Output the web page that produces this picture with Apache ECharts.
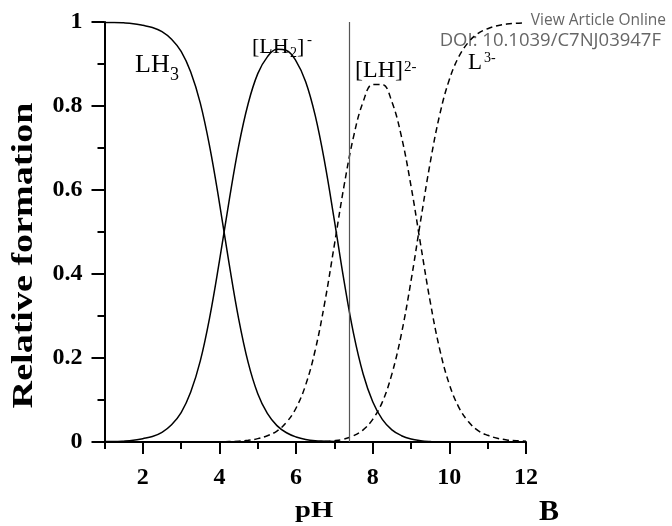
<!DOCTYPE html>
<html><head><meta charset="utf-8">
<script src="https://cdn.jsdelivr.net/npm/echarts@6/dist/echarts.min.js"></script>
<style>html,body{margin:0;padding:0;background:#fff}#c{width:672px;height:526px}</style>
</head><body><div id="c"></div>
<script>
var pH = [1,1.25,1.5,1.75,2,2.25,2.5,2.75,3,3.25,3.5,3.75,4,4.25,4.5,4.75,5,5.25,5.5,5.75,6,6.25,6.5,6.75,7,7.25,7.5,7.75,8,8.25,8.5,8.75,9,9.25,9.5,9.75,10,10.25,10.5,10.75,11,11.25,11.5,11.75,12];
var LH3 = [0.999,0.999,0.998,0.996,0.992,0.987,0.977,0.959,0.930,0.881,0.807,0.701,0.569,0.426,0.294,0.189,0.115,0.068,0.039,0.022,0.012,0.006,0.003,0.002,0.001,0,0,0,0,0,0,0,0,0,0,0,0,0,0,0,0,0,0,0,0];
var LH2 = [0.001,0.001,0.002,0.004,0.008,0.013,0.023,0.041,0.070,0.119,0.193,0.299,0.431,0.573,0.704,0.806,0.877,0.917,0.935,0.932,0.907,0.858,0.777,0.664,0.527,0.384,0.258,0.162,0.096,0.054,0.029,0.015,0.007,0.003,0.001,0,0,0,0,0,0,0,0,0,0];
var LH = [0,0,0,0,0,0,0,0,0,0,0,0,0.000,0.001,0.002,0.004,0.008,0.015,0.026,0.047,0.081,0.136,0.219,0.333,0.470,0.609,0.727,0.810,0.851,0.851,0.810,0.727,0.609,0.470,0.334,0.220,0.137,0.082,0.048,0.027,0.016,0.009,0.005,0.003,0.002];
var L3 = [0,0,0,0,0,0,0,0,0,0,0,0,0,0,0,0,0,0,0,0,0,0,0,0.001,0.003,0.007,0.015,0.029,0.054,0.095,0.162,0.258,0.384,0.527,0.665,0.780,0.863,0.918,0.952,0.973,0.984,0.991,0.995,0.997,0.998];
var xMajor = [2,4,6,8,10,12];
var xMinor = [1,3,5,7,9,11];
var physiologicalPH = 7.4;

function pairs(ys){ return pH.map(function(x,i){return [x, ys[i]];}); }

var serif = 'Liberation Serif';
var chart = echarts.init(document.getElementById('c'), null, {renderer:'canvas'});
function line(name, ys, dashed, extra){
  var s = {name:name, type:'line', data:pairs(ys), showSymbol:false, smooth:0.4,
    lineStyle:{color:'#000', width:1.5, type: dashed ? [6,4] : 'solid'}, z:3, animation:false};
  if (extra) for (var k in extra) s[k]=extra[k];
  return s;
}
var option = {
  animation:false,
  grid:{left:104.5, right:146, top:22, bottom:84},
  xAxis:[{
    type:'value', min:1, max:12,
    axisLine:{show:true, onZero:false, lineStyle:{color:'#000', width:2}},
    axisTick:{show:true, customValues:xMajor, length:12, lineStyle:{color:'#000', width:2}},
    axisLabel:{customValues:xMajor, margin:24, fontFamily:serif, fontWeight:'bold', fontSize:24, color:'#000'},
    splitLine:{show:false}
  },{
    type:'value', min:1, max:12, position:'bottom',
    axisLine:{show:false},
    axisTick:{show:true, customValues:xMinor, length:7, lineStyle:{color:'#000', width:2}},
    axisLabel:{show:false}, splitLine:{show:false}
  }],
  yAxis:{
    type:'value', min:0, max:1, interval:0.2,
    axisLine:{show:true, lineStyle:{color:'#000', width:2}},
    axisTick:{show:true, length:13, lineStyle:{color:'#000', width:2}},
    minorTick:{show:true, splitNumber:2, length:7, lineStyle:{color:'#000', width:2}},
    axisLabel:{margin:22, fontFamily:serif, fontWeight:'bold', fontSize:24, color:'#000'},
    splitLine:{show:false}, minorSplitLine:{show:false}
  },
  series:[
    line('LH3', LH3, false, {markLine:{silent:true, symbol:'none', label:{show:false},
      lineStyle:{color:'#555', width:1.2, type:'solid'}, data:[{xAxis:physiologicalPH}]}}),
    line('[LH2]-', LH2, false),
    line('[LH]2-', LH, true),
    line('L3-', L3, true)
  ],
  graphic:[
    {type:'text', x:24, y:255.5, rotation:Math.PI/2, scaleX:1.27,
      style:{text:'Relative formation', font:'bold 30px "Liberation Serif"', fill:'#000', textAlign:'center', textVerticalAlign:'middle'}},
    {type:'text', x:295, y:499, scaleX:1.19,
      style:{text:'pH', font:'bold 24px "Liberation Serif"', fill:'#000', textAlign:'left', textVerticalAlign:'top'}},
    {type:'text', left:135, top:52, style:{text:'LH', font:'26px "Liberation Serif"', fill:'#000'}},
    {type:'text', left:170, top:66, style:{text:'3', font:'18px "Liberation Serif"', fill:'#000'}},
    {type:'text', left:252, top:36, style:{text:'[LH', font:'22px "Liberation Serif"', fill:'#000'}},
    {type:'text', left:290, top:46, style:{text:'2', font:'14px "Liberation Serif"', fill:'#000'}},
    {type:'text', left:297, top:36, style:{text:']', font:'22px "Liberation Serif"', fill:'#000'}},
    {type:'text', left:307, top:33, style:{text:'-', font:'15px "Liberation Serif"', fill:'#000'}},
    {type:'text', left:355, top:59, style:{text:'[LH]', font:'24px "Liberation Serif"', fill:'#000'}},
    {type:'text', left:404, top:60, style:{text:'2-', font:'15px "Liberation Serif"', fill:'#000'}},
    {type:'text', left:468, top:51, style:{text:'L', font:'23px "Liberation Serif"', fill:'#000'}},
    {type:'text', left:484, top:51, style:{text:'3-', font:'14px "Liberation Serif"', fill:'#000'}},
    {type:'text', right:6, top:13, style:{text:'View Article Online', font:'15.5px "Open Sans"', fill:'#666'}},
    {type:'text', right:11, top:31, style:{text:'DOI: 10.1039/C7NJ03947F', font:'18.5px "Open Sans"', fill:'#666'}},
    {type:'text', left:539, top:497, style:{text:'B', font:'bold 30px "Liberation Serif"', fill:'#000'}}
  ]
};
chart.setOption(option);
</script></body></html>
